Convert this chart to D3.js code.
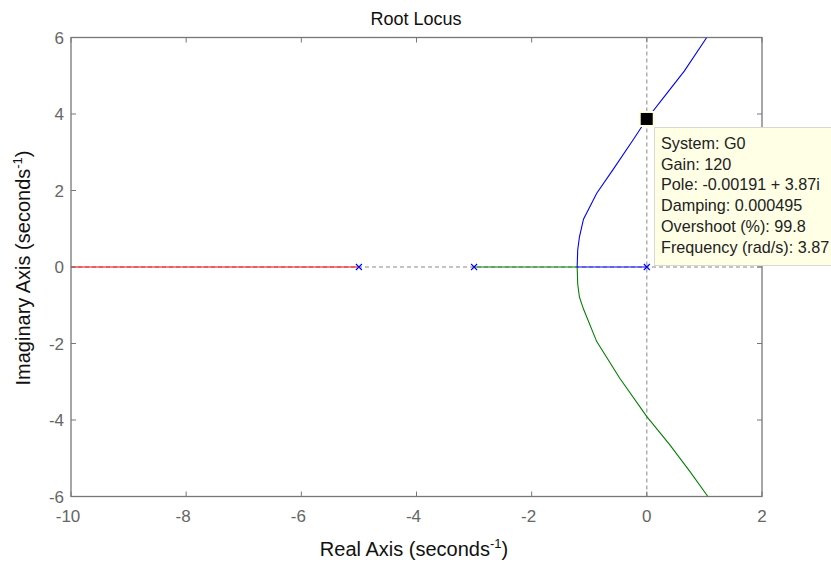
<!DOCTYPE html>
<html>
<head>
<meta charset="utf-8">
<script src="https://cdn.jsdelivr.net/npm/d3@7"></script>
<style>
  body { margin: 0; background: #fff; }
  svg { display: block; font-family: "Liberation Sans", Arial, sans-serif; }
</style>
</head>
<body>
<div id="chart"></div>
<script>
// root locus branches (real, imag)
var branchBlue = [[0, 0], [-1.21, 0], [-1.2, 0.45], [-1.17, 0.79], [-1.1, 1.25], [-0.87, 1.93], [-0.59, 2.54], [-0.24, 3.32], [0, 3.87], [0.3, 4.45], [0.65, 5.12], [1.04, 6]];
var branchGreen = [[-3, 0], [-1.21, 0], [-1.2, -0.45], [-1.17, -0.79], [-1.1, -1.1], [-0.87, -1.95], [-0.47, -2.91], [0, -3.91], [0.4, -4.65], [0.75, -5.35], [1.06, -6]];
var branchRed = [[-5, 0], [-10.5, 0]];
var poles = [0, -3, -5];
var xTicks = [-10, -8, -6, -4, -2, 0, 2];
var yTicks = [-6, -4, -2, 0, 2, 4, 6];
var tipPoint = [-0.00191, 3.87];
var tipLines = ["System: G0", "Gain: 120", "Pole: -0.00191 + 3.87i", "Damping: 0.000495", "Overshoot (%): 99.8", "Frequency (rad/s): 3.87"];

var W = 831, H = 562;
var margin = {top: 37.5, right: 69, bottom: 65.5, left: 71};
var width = W - margin.left - margin.right,
    height = H - margin.top - margin.bottom;

var svg = d3.select("#chart").append("svg")
    .attr("width", W)
    .attr("height", H);

svg.append("defs").append("clipPath").attr("id", "plotclip")
    .append("rect").attr("width", width).attr("height", height);

var g = svg.append("g")
    .attr("transform", "translate(" + margin.left + "," + margin.top + ")");

var x = d3.scaleLinear().domain([-10, 2]).range([0, width]);
var y = d3.scaleLinear().domain([-6, 6]).range([height, 0]);

var axisColor = "#777";

// frame
g.append("rect")
    .attr("width", width)
    .attr("height", height)
    .attr("fill", "#fff")
    .attr("stroke", axisColor)
    .attr("stroke-width", 1.3);

var plot = g.append("g").attr("clip-path", "url(#plotclip)");

// dashed zero lines
plot.append("line")
    .attr("x1", x(0)).attr("x2", x(0))
    .attr("y1", 0).attr("y2", height)
    .attr("stroke", "#888").attr("stroke-dasharray", "4,3");
plot.append("line")
    .attr("x1", 0).attr("x2", width)
    .attr("y1", y(0)).attr("y2", y(0))
    .attr("stroke", "#888").attr("stroke-dasharray", "4,3");

var line = d3.line().x(d => x(d[0])).y(d => y(d[1]));

[[branchRed, "#ff0000"], [branchGreen, "#008000"], [branchBlue, "#0000ff"]].forEach(function(b) {
    plot.append("path")
        .datum(b[0])
        .attr("d", line)
        .attr("fill", "none")
        .attr("stroke", b[1])
        .attr("stroke-width", 1.1);
});

// pole markers
var m = 3;
poles.forEach(function(p) {
    var px = x(p), py = y(0);
    plot.append("path")
        .attr("d", "M" + (px - m) + "," + (py - m) + "L" + (px + m) + "," + (py + m) +
                   "M" + (px - m) + "," + (py + m) + "L" + (px + m) + "," + (py - m))
        .attr("stroke", "#0000ff")
        .attr("stroke-width", 1.1);
});

// ticks (inside, on all four sides)
var tl = 5;
xTicks.forEach(function(t) {
    g.append("line").attr("x1", x(t)).attr("x2", x(t)).attr("y1", height).attr("y2", height - tl).attr("stroke", axisColor);
    g.append("line").attr("x1", x(t)).attr("x2", x(t)).attr("y1", 0).attr("y2", tl).attr("stroke", axisColor);
    g.append("text")
        .attr("x", x(t) - (t < 0 ? 3 : 0))
        .attr("y", height + 25)
        .attr("text-anchor", "middle")
        .attr("font-size", 17)
        .attr("fill", "#666")
        .text(t);
});
yTicks.forEach(function(t) {
    g.append("line").attr("x1", 0).attr("x2", tl).attr("y1", y(t)).attr("y2", y(t)).attr("stroke", axisColor);
    g.append("line").attr("x1", width).attr("x2", width - tl).attr("y1", y(t)).attr("y2", y(t)).attr("stroke", axisColor);
    g.append("text")
        .attr("x", -7)
        .attr("y", y(t) + 6)
        .attr("text-anchor", "end")
        .attr("font-size", 17)
        .attr("fill", "#666")
        .text(t);
});

// title and axis labels
svg.append("text")
    .attr("x", 416)
    .attr("y", 25)
    .attr("text-anchor", "middle")
    .attr("font-size", 18)
    .attr("fill", "#111")
    .text("Root Locus");

var xl = svg.append("text")
    .attr("x", 414)
    .attr("y", 556)
    .attr("text-anchor", "middle")
    .attr("font-size", 20)
    .attr("fill", "#111");
xl.append("tspan").text("Real Axis (seconds");
xl.append("tspan").attr("dy", -8).attr("font-size", 13).text("-1");
xl.append("tspan").attr("dy", 8).text(")");

var yl = svg.append("text")
    .attr("transform", "translate(30,268) rotate(-90)")
    .attr("text-anchor", "middle")
    .attr("font-size", 20)
    .attr("fill", "#111");
yl.append("tspan").text("Imaginary Axis (seconds");
yl.append("tspan").attr("dy", -8).attr("font-size", 13).text("-1");
yl.append("tspan").attr("dy", 8).text(")");

// data tip
var tx = margin.left + x(tipPoint[0]), ty = margin.top + y(tipPoint[1]);
svg.append("rect")
    .attr("x", tx - 8).attr("y", ty - 8)
    .attr("width", 16).attr("height", 16)
    .attr("fill", "#ffffe0");
svg.append("rect")
    .attr("x", tx - 6).attr("y", ty - 6)
    .attr("width", 12).attr("height", 12)
    .attr("fill", "#000");

var boxX = 654.5, boxY = 127.5;
svg.append("rect")
    .attr("x", boxX).attr("y", boxY)
    .attr("width", 200).attr("height", 138)
    .attr("fill", "#ffffe6")
    .attr("stroke", "#d8d8d0");
svg.selectAll(".tip").data(tipLines).enter().append("text")
    .attr("class", "tip")
    .attr("x", boxX + 6.5)
    .attr("y", (d, i) => boxY + 21.5 + i * 20.7)
    .attr("font-size", 16.2)
    .attr("fill", "#222")
    .text(d => d);
</script>
</body>
</html>
